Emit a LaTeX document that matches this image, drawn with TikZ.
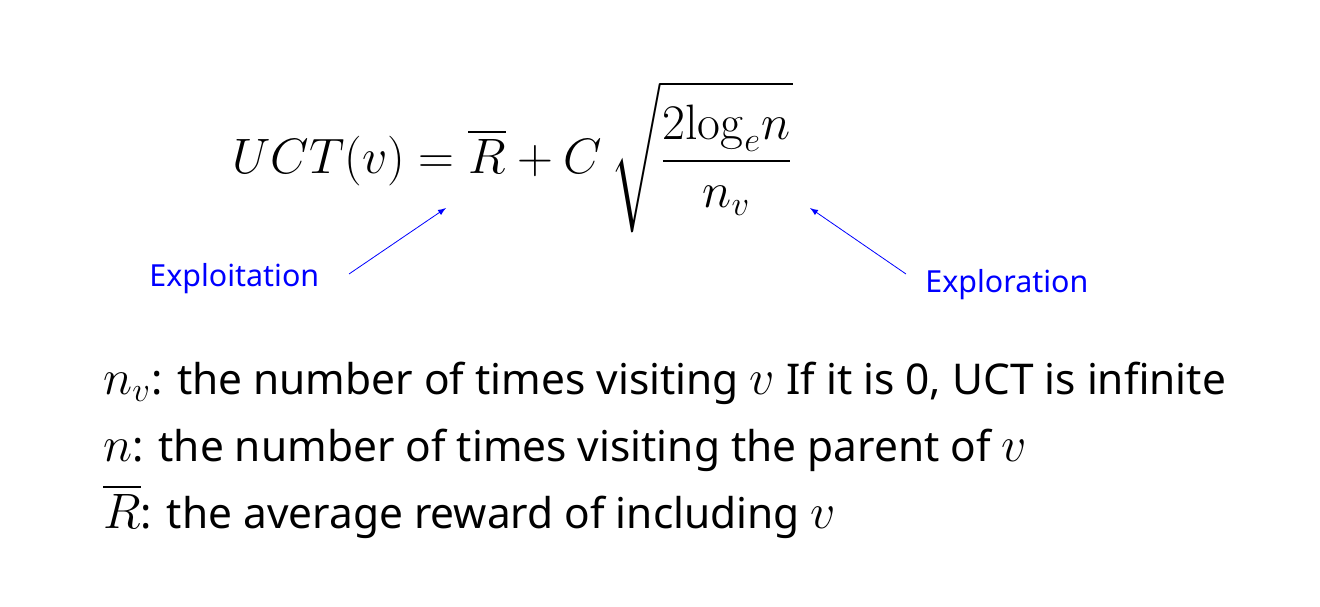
\documentclass[tikz,border=0pt]{standalone}
\usepackage[no-math]{fontspec}
\setmainfont{Noto Sans}
\usepackage{amsmath}
\usetikzlibrary{positioning}
\newcommand{\mv}[1]{{\fontsize{25}{25}\selectfont$#1$}}
\begin{document}
\begin{tikzpicture}[x=0.5pt,y=-0.5pt,
	formula/.style = {inner sep=0pt, font=\fontsize{23.5}{28}\selectfont},
	note/.style = {inner sep=0pt, anchor=base west, text=blue, font=\fontsize{15.2}{18}\selectfont},
	def line/.style = {inner sep=0pt, anchor=base west, font=\fontsize{21.2}{25}\selectfont},
	pointer/.style = {-latex, blue, thin}]
	\useasboundingbox (0,0) rectangle (1320,606);
	
	\node[formula, anchor=west] (uct) at (232,157) {$\displaystyle UCT(v) = \overline{R} + C\,\sqrt{\frac{\rule{0pt}{20pt}2\mathrm{log}_e n}{n_v\rule[-9pt]{0pt}{9pt}}}$};
	\node[note] (exploit) at (149,286) {Exploitation};
	\node[note] (explore) at (925,292) {Exploration};
	
	\coordinate (tailL) at (349,274);
	\coordinate (tipL) at (446,208);
	\coordinate (tailR) at (906,274);
	\coordinate (tipR) at (810,208);
	\draw[pointer] (tailL) -- (tipL);
	\draw[pointer] (tailR) -- (tipR);
	
	\node[def line] (nv) at (103,394) {\mv{n_v}: the number of times visiting \mv{v} If it is 0, UCT is infinite};
	\node[def line] (n) at (103,461) {\mv{n}: the number of times visiting the parent of \mv{v}};
	\node[def line] (rbar) at (103,528) {\mv{\overline{R}}: the average reward of including \mv{v}};
\end{tikzpicture}
\end{document}
